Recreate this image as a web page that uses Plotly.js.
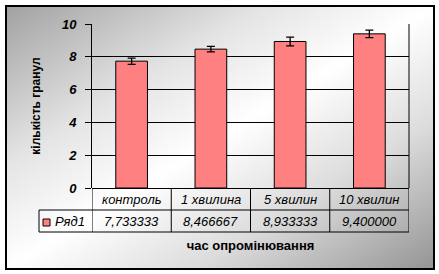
<!DOCTYPE html>
<html>
<head>
<meta charset="utf-8">
<script src="https://cdn.plot.ly/plotly-3.0.1.min.js"></script>
<style>
html,body{margin:0;padding:0;background:#fff;overflow:hidden;}
#frame{position:absolute;left:5px;top:5px;width:426px;height:261px;border:2px solid #000;
background:linear-gradient(to bottom right,#a2a2a2 0%,#e4e4e4 30%,#ffffff 50%,#dcdcdc 72%,#959595 100%);}
#chart{position:absolute;left:0;top:0;width:439px;height:274px;}
</style>
</head>
<body>
<div id="frame"></div>
<div id="chart"></div>
<script>
// data
const categories = ['контроль', '1 хвилина', '5 хвилин', '10 хвилин'];
const values = [7.733333, 8.466667, 8.933333, 9.400000];
const errors = [0.19, 0.17, 0.27, 0.23];
const seriesName = 'Ряд1';
const yTicks = [0, 2, 4, 6, 8, 10];
const yTitle = 'кількість гранул';
const xTitle = 'час опромінювання';

const fmt = v => v.toFixed(6).replace('.', ',');
const tableFont = {family: 'Arial, "Liberation Sans", sans-serif', size: 13, color: '#000', style: 'italic'};

const trace = {
  type: 'bar', x: categories, y: values, name: seriesName,
  marker: {color: '#ff8080', line: {color: '#000', width: 1}},
  error_y: {type: 'data', array: errors, visible: true, color: '#000', thickness: 1.3, width: 4},
  hoverinfo: 'skip'
};

const annotations = [];
const shapes = [];
categories.forEach((c, i) => {
  annotations.push({xref: 'x', yref: 'paper', x: c, y: 0, yanchor: 'middle', yshift: -11,
    text: c, showarrow: false, font: tableFont});
  annotations.push({xref: 'x', yref: 'paper', x: c, y: 0, yanchor: 'middle', yshift: -33,
    text: fmt(values[i]), showarrow: false, font: tableFont});
});
annotations.push({xref: 'paper', yref: 'paper', x: 0, xshift: -39, xanchor: 'left', y: 0, yanchor: 'middle', yshift: -33,
  text: seriesName, showarrow: false, font: tableFont});

const lineSt = {color: '#000', width: 1};
// table vertical lines at category boundaries
for (let i = 0; i <= categories.length; i++) {
  shapes.push({type: 'line', xref: 'x', yref: 'paper', ysizemode: 'pixel', yanchor: 0,
    x0: i - 0.5, x1: i - 0.5, y0: 0, y1: -44, line: lineSt});
}
// plot right border
shapes.push({type: 'line', xref: 'paper', yref: 'paper', x0: 1, x1: 1, y0: 0, y1: 1, line: lineSt});
// table horizontal lines (legend cell extends left of plot)
[-22, -44].forEach(py => {
  shapes.push({type: 'line', xref: 'paper', yref: 'paper', xsizemode: 'pixel', xanchor: 0, ysizemode: 'pixel', yanchor: 0,
    x0: -53, x1: 317, y0: py, y1: py, line: lineSt});
});
// legend cell left border
shapes.push({type: 'line', xref: 'paper', yref: 'paper', xsizemode: 'pixel', xanchor: 0, ysizemode: 'pixel', yanchor: 0,
  x0: -53, x1: -53, y0: -22, y1: -44, line: lineSt});
// legend key
shapes.push({type: 'rect', xref: 'paper', yref: 'paper', xsizemode: 'pixel', xanchor: 0, ysizemode: 'pixel', yanchor: 0,
  x0: -49, x1: -42, y0: -31, y1: -38, fillcolor: '#ff8080', line: lineSt});

const layout = {
  width: 439, height: 274,
  margin: {l: 92, r: 30, t: 24, b: 86, pad: 0},
  paper_bgcolor: 'rgba(0,0,0,0)', plot_bgcolor: 'rgba(0,0,0,0)',
  showlegend: false, bargap: 0.6,
  font: {family: 'Arial, "Liberation Sans", sans-serif', color: '#000'},
  xaxis: {type: 'category', showticklabels: false, ticks: '', showgrid: false, showline: false, zeroline: false,
    range: [-0.5, categories.length - 0.5], fixedrange: true,
    title: {text: xTitle, standoff: 52, font: {size: 13, weight: 'bold', color: '#000'}}},
  yaxis: {range: [0, 10], tickvals: yTicks, ticktext: yTicks.map(String), ticks: 'outside', ticklen: 6, tickcolor: '#000', tickwidth: 1,
    ticklabelstandoff: 6,
    tickfont: {size: 13, weight: 'bold', style: 'italic', color: '#000'},
    showgrid: true, gridcolor: '#000', gridwidth: 1, showline: true, linecolor: '#000', linewidth: 1,
    zeroline: true, zerolinecolor: '#000', zerolinewidth: 1, fixedrange: true,
    title: {text: yTitle, standoff: 18, font: {size: 12, weight: 'bold', color: '#000'}}},
  annotations: annotations, shapes: shapes
};
Plotly.newPlot('chart', [trace], layout, {staticPlot: true, displayModeBar: false});
</script>
</body>
</html>
